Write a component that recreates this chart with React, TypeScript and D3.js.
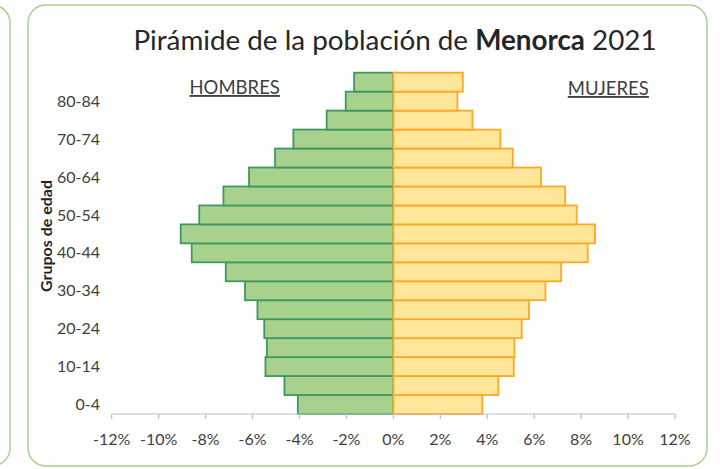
import { useMemo } from 'react';
import * as d3 from 'd3';

// age groups from youngest to oldest; only every other one gets a label
const grupos = ['0-4', '5-9', '10-14', '15-19', '20-24', '25-29', '30-34', '35-39', '40-44', '45-49', '50-54', '55-59', '60-64', '65-69', '70-74', '75-79', '80-84', '85+'];
// share of total population, %
const hombres = [4.07, 4.64, 5.45, 5.39, 5.5, 5.79, 6.32, 7.14, 8.59, 9.06, 8.27, 7.24, 6.15, 5.04, 4.26, 2.84, 2.03, 1.67];
const mujeres = [3.79, 4.47, 5.13, 5.16, 5.47, 5.78, 6.48, 7.15, 8.28, 8.59, 7.81, 7.32, 6.29, 5.09, 4.56, 3.37, 2.73, 2.96];
const xTicks = [-12, -10, -8, -6, -4, -2, 0, 2, 4, 6, 8, 10, 12];

const W = 720;
const H = 469;
const FONT = 'Lato, "Open Sans", sans-serif';

export default function App() {
	const x = useMemo(() => d3.scaleLinear().domain([-12, 12]).range([111.7, 675]), []);
	const y = useMemo(() => d3.scaleBand<string>().domain(grupos).range([414, 72.7]).padding(0), []);
	const x0 = x(0);
	const bh = y.bandwidth();

	return (
		<svg width={W} height={H} style={{ position: 'absolute', left: 0, top: 0, background: '#fff' }}>
			{/* cards */}
			<rect x={-100} y={5} width={110} height={461} rx={18} fill="#fff" stroke="#a9d18e" strokeWidth={1.5} />
			<rect x={28} y={5} width={679} height={461} rx={18} fill="#fff" stroke="#a9d18e" strokeWidth={1.5} />

			<text x={395} y={50} textAnchor="middle" fontFamily={FONT} fontSize={27.8} fill="#262626">
				Pirámide de la población de <tspan fontWeight="bold">Menorca</tspan> 2021
			</text>

			<text x={234.7} y={94} textAnchor="middle" fontFamily={FONT} fontSize={18.5} fill="#404040" textDecoration="underline">
				HOMBRES
			</text>
			<text x={608.3} y={95} textAnchor="middle" fontFamily={FONT} fontSize={18.5} fill="#404040" textDecoration="underline">
				MUJERES
			</text>

			{/* bars */}
			{grupos.map((g, i) => (
				<g key={g}>
					<rect x={x(-hombres[i])} y={y(g)} width={x0 - x(-hombres[i])} height={bh} fill="#a9d18e" stroke="#3d9a5d" strokeWidth={1.8} />
					<rect x={x0} y={y(g)} width={x(mujeres[i]) - x0} height={bh} fill="#ffe699" stroke="#ffa726" strokeWidth={1.8} />
				</g>
			))}

			{/* y labels */}
			{grupos.map((g, i) =>
				i % 2 === 0 ? (
					<text key={g} x={100} y={(y(g) ?? 0) + bh / 2} dy="0.35em" textAnchor="end" fontFamily={FONT} fontSize={16} fill="#404040">
						{g}
					</text>
				) : null
			)}
			<text transform="translate(46.7,236) rotate(-90)" textAnchor="middle" dy="0.35em" fontFamily={FONT} fontSize={16} fontWeight="bold" fill="#262626">
				Grupos de edad
			</text>

			{/* x axis */}
			<line x1={x(-12)} x2={x(12)} y1={414} y2={414} stroke="#bfbfbf" strokeWidth={1.2} />
			{xTicks.map((t) => (
				<g key={t} transform={`translate(${x(t)},414)`}>
					<line y1={0} y2={5} stroke="#bfbfbf" strokeWidth={1.2} />
					<text y={31} textAnchor="middle" fontFamily={FONT} fontSize={16} fill="#404040">
						{`${t}%`}
					</text>
				</g>
			))}
		</svg>
	);
}
